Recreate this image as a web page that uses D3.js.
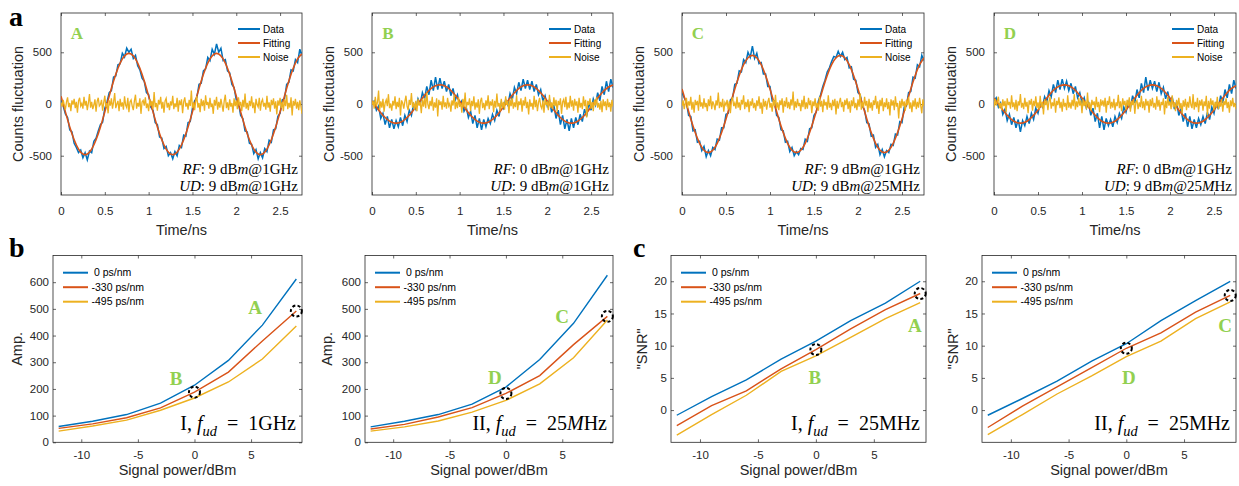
<!DOCTYPE html>
<html><head><meta charset="utf-8">
<script src="https://cdn.jsdelivr.net/npm/d3@7"></script>
<style>
body{margin:0;background:#fff}
svg{display:block}
</style>
</head><body>
<svg id="c" width="1239" height="486"></svg>
<script>
// ---------------- DATA ----------------
const sampleStep = 0.025;   // ns between data samples
const noiseStep = 0.0125;   // ns between noise samples
const fitStep = 0.05;       // ns between fitted-curve samples
const timeTicks = [0, 0.5, 1, 1.5, 2, 2.5];
const countTicks = [-500, 0, 500];

const dataA = [40,-20,-95,-130,-250,-270,-380,-420,-470,-445,
-520,-470,-540,-455,-470,-360,-330,-260,-200,-175,
-40,20,110,130,260,270,380,390,490,455,
540,500,530,440,470,370,330,250,220,110,
90,-30,-60,-180,-200,-320,-330,-430,-410,-500,
-470,-530,-460,-500,-400,-420,-300,-310,-180,-170,
-40,30,60,190,200,320,340,450,420,530,
480,580,500,540,420,430,320,300,190,160,
40,10,-110,-140,-260,-270,-380,-390,-480,-440,
-530,-470,-520,-430,-460,-350,-370,-250,-240,-120,
-90,40,50,190,210,330,320,430,400,530,470];
const fitA = [76,-76,-222,-346,-437,-484,-484,-437,-346,-222,-76,76,222,346,437,484,484,437,346,222,
76,-76,-222,-346,-437,-484,-484,-437,-346,-222,-76,76,222,346,437,484,484,437,346,222,
76,-76,-222,-346,-437,-484,-484,-437,-346,-222,-76,76,222,346,437,484];
const noiseA = [15,-25,40,-10,-55,20,65,-30,10,-70,35,-5,50,-40,20,-85,30,60,-20,5,
-45,70,-15,30,-60,10,95,-35,20,-50,-10,45,-75,25,60,-20,-5,40,-65,15,
80,-30,10,-90,35,-15,55,-45,20,105,-40,0,30,-70,50,-25,15,-55,75,-10,
-35,60,-80,20,40,-20,-60,30,90,-45,10,-25,55,-95,20,35,-15,65,-40,5,
-70,45,-20,30,-50,115,-30,10,-65,40,-5,70,-45,20,-85,30,55,-35,10,-60,
25,-15,80,-50,5,-30,60,-75,35,-10,45,-90,20,65,-25,10,-55,40,-20,130,
-40,15,-60,30,75,-35,10,-80,50,-20,35,-65,85,-10,20,-45,60,-30,5,-95,
40,-15,70,-55,20,-35,50,-10,-75,30,90,-40,15,-60,45,-25,10,-85,55,-20,
35,-50,65,-15,20,-70,40,-30,100,-45,10,-60,30,-20,75,-40,15,-90,50,-5,
-30,60,-65,20,45,-25,10,-55,80,-35,15,-75,40,-10,55,-45,25,-100,35,-15,
60,-40,20,-70,45,-20,90,-50,10,-35,65,-110,30,-15,50,-45,20,-60,35,-20,-95];

const dataB = [10,30,-60,-20,-140,-90,-200,-120,-230,-150,
-240,-160,-220,-130,-210,-110,-170,-60,-110,0,
-50,50,0,110,50,170,90,230,130,260,
140,250,150,220,120,190,80,150,40,90,
-10,30,-70,-30,-130,-70,-190,-110,-230,-140,
-250,-150,-220,-140,-190,-100,-160,-60,-120,10,
-40,40,-10,100,40,160,100,210,130,240,
150,230,140,220,120,190,90,140,30,80,
-20,40,-80,-10,-140,-60,-200,-110,-240,-150,
-260,-140,-230,-130,-200,-100,-170,-50,-120,20,
-60,50,-10,110,30,170,90,220,120,240,160];
const fitB = [29,-29,-84,-131,-165,-183,-183,-165,-131,-84,-29,29,84,131,165,183,183,165,131,84,
29,-29,-84,-131,-165,-183,-183,-165,-131,-84,-29,29,84,131,165,183,183,165,131,84,
29,-29,-84,-131,-165,-183,-183,-165,-131,-84,-29,29,84,131,165,183];
const noiseB = [-10,30,-45,70,-20,15,130,-60,25,-35,50,-75,10,40,-20,95,-40,5,-65,30,
-15,75,-50,20,-30,60,-110,35,10,-45,25,80,-20,-60,40,-10,105,-35,15,-55,
30,-70,50,-15,20,-90,45,-25,60,-40,110,-5,-50,30,-20,70,-65,15,-35,55,
-120,40,-10,25,-55,80,-30,15,-45,60,-20,5,-75,35,-15,90,-50,20,-40,65,
-25,10,-85,50,-30,110,-45,20,-10,55,-70,30,-20,75,-55,15,-35,45,-95,25,
60,-40,10,-60,35,-20,85,-50,25,-15,45,-80,30,-35,100,-25,10,-65,50,-40,
20,-55,75,-10,30,-90,45,-20,60,-45,15,-30,85,-60,25,-10,55,-75,35,-15,
70,-40,20,-100,45,-25,10,-55,80,-30,40,-70,15,60,-20,-45,35,-85,50,-10,
25,-60,90,-35,15,-50,65,-20,40,-75,30,-10,55,-95,20,45,-30,70,-55,15,
-40,80,-25,35,-65,50,-15,25,-85,60,-35,10,-50,75,-20,40,-130,30,-10,55,
-45,20,-70,40,-15,65,-35,10,-55,30,-80,45,-20,25,-60,50,-30,15,-75,40,-25];

const dataC = [110,60,20,-110,-120,-260,-250,-370,-360,-450,
-410,-510,-450,-500,-420,-440,-340,-350,-230,-230,
-100,-90,40,60,190,200,320,310,430,400,
500,450,560,440,490,390,400,290,290,170,
170,30,30,-110,-130,-250,-260,-370,-360,-460,
-420,-500,-460,-490,-430,-440,-340,-360,-240,-230,
-110,-80,30,90,170,230,310,350,410,460,
450,510,460,500,430,450,350,360,240,230,
110,90,-20,-60,-180,-190,-310,-300,-420,-390,
-490,-440,-510,-450,-470,-390,-400,-290,-300,-170,
-180,-30,-20,110,120,260,250,380,360,470,420];
const fitC = [145,0,-145,-276,-380,-447,-470,-447,-380,-276,-145,0,145,276,380,447,470,447,380,276,
145,0,-145,-276,-380,-447,-470,-447,-380,-276,-145,0,145,276,380,447,470,447,380,276,
145,0,-145,-276,-380,-447,-470,-447,-380,-276,-145,0,145,276,380,447];
const noiseC = [-20,35,-50,10,60,-40,25,-15,70,-55,20,-85,40,-10,30,-65,90,-25,15,-45,
55,-30,10,-70,45,-20,80,-50,25,-5,-60,35,-15,110,-40,20,-30,50,-75,15,
-10,40,-55,25,-90,30,65,-20,10,-45,70,-35,15,-60,40,-5,85,-50,20,-30,
45,-80,25,-15,55,-40,10,-65,35,-20,75,-45,15,-95,50,-25,30,-55,20,60,
-35,10,-75,40,-20,90,-45,15,-60,35,-10,55,-85,30,-25,65,-40,20,-50,45,
-15,120,-60,25,-35,50,-20,10,-70,40,-30,80,-50,15,-45,60,-10,35,-90,25,
-20,55,-40,10,-65,70,-25,30,-80,45,-15,20,-55,85,-35,10,-60,40,-20,50,
-100,30,-45,15,60,-30,20,-75,40,-10,55,-50,25,-85,35,-20,65,-40,10,-60,
45,-25,100,-55,20,-35,70,-15,30,-80,50,-40,15,-65,35,-10,80,-45,25,-95,
40,-20,60,-70,15,-30,55,-50,20,-110,45,-15,35,-60,75,-25,10,-140,30,-40,
50,-20,25,-65,40,-10,70,-45,15,-80,35,-25,55,-50,20,-35,60,-15,-90,45,-20];

const dataD = [30,60,-30,10,-100,-50,-160,-100,-200,-130,
-230,-150,-270,-160,-210,-120,-190,-90,-150,-40,
-90,10,-30,70,20,130,70,190,110,230,
140,240,150,220,130,200,100,170,60,110,
10,60,-40,10,-110,-40,-170,-90,-230,-120,
-250,-140,-210,-150,-220,-120,-180,-90,-140,-30,
-80,20,-40,80,10,140,60,200,110,260,
130,230,150,220,120,210,100,160,50,120,
0,70,-50,20,-110,-50,-170,-90,-220,-120,
-240,-150,-230,-140,-200,-120,-190,-80,-150,-30,
-90,20,-50,80,10,140,60,190,100,230,150];
const fitD = [57,0,-57,-109,-150,-176,-185,-176,-150,-109,-57,0,57,109,150,176,185,176,150,109,
57,0,-57,-109,-150,-176,-185,-176,-150,-109,-57,0,57,109,150,176,185,176,150,109,
57,0,-57,-109,-150,-176,-185,-176,-150,-109,-57,0,57,109,150,176];
const noiseD = [-35,50,-15,25,70,-40,10,-60,45,-20,30,-80,55,-10,20,-45,85,-30,15,-55,
40,-70,25,-15,95,-35,10,-50,60,-25,20,-90,35,-5,50,-65,30,-20,75,-40,
15,-55,80,-30,20,-100,45,-10,35,-60,25,70,-45,15,-20,55,-85,30,-10,65,
-40,20,-75,50,-25,10,-60,85,-35,15,-45,40,-20,95,-55,25,-30,60,-15,35,
-90,45,-20,30,-50,110,-35,15,-65,40,-10,25,-55,70,-30,20,-80,45,-15,35,
-25,60,-85,30,-10,75,-45,20,-35,50,-60,15,-20,90,-40,25,-70,55,-10,30,
-55,40,-20,65,-75,30,-10,45,-95,20,35,-50,15,-30,80,-40,25,-60,50,-15,
30,-85,45,-20,60,-35,10,-55,75,-25,40,-65,20,-10,55,-100,30,-40,70,-15,
25,-50,85,-30,15,-70,40,-20,60,-45,10,-90,35,-25,50,-60,20,-35,75,-10,
-40,95,-55,20,-30,60,-80,35,-15,45,-65,25,-20,80,-110,30,-45,55,-10,35,
-60,20,-35,70,-50,15,-25,45,-75,30,-10,55,-40,20,-85,35,-20,60,-30,10,-50];

const topSeriesNames = ["Data", "Fitting", "Noise"];

// bottom row
const signalPower = [-12, -9, -6, -3, 0, 3, 6, 9];
const powerTicks = [-10, -5, 0, 5];
const ampTicks = [0, 100, 200, 300, 400, 500, 600];
const snrTicks = [0, 5, 10, 15, 20];
const dispersionNames = ["0 ps/nm", "-330 ps/nm", "-495 ps/nm"];

const ampI_0   = [59, 79, 104, 147, 214, 307, 439, 612];
const ampI_330 = [52, 69, 92, 129, 188, 263, 380, 492];
const ampI_495 = [42, 61, 83, 120, 166, 226, 312, 436];
const ampII_0   = [58, 79, 104, 143, 207, 310, 446, 626];
const ampII_330 = [50, 67, 95, 130, 183, 250, 366, 472];
const ampII_495 = [42, 58, 80, 113, 157, 219, 317, 458];
const snrI_0   = [-0.8, 2.1, 4.7, 7.9, 10.7, 13.9, 16.6, 20.0];
const snrI_330 = [-2.4, 0.7, 3.0, 6.4, 9.4, 12.6, 15.6, 18.1];
const snrI_495 = [-3.9, -0.7, 2.3, 6.0, 8.4, 11.3, 14.2, 16.7];
const snrII_0   = [-0.8, 1.8, 4.5, 7.6, 10.3, 13.9, 17.0, 20.0];
const snrII_330 = [-2.7, 0.6, 3.6, 6.6, 9.6, 12.0, 15.2, 17.8];
const snrII_495 = [-3.8, -0.7, 2.5, 5.3, 8.3, 10.7, 14.2, 16.8];

// ---------------- STYLE / LAYOUT ----------------
const C_BLUE = "#0072BD", C_RED = "#D95319", C_YEL = "#EDB120", C_GREEN = "#92D050", AX = "#262626";
const SANS = '"Liberation Sans", Arial, Helvetica, sans-serif';
const SERIF = '"Liberation Serif", "Times New Roman", serif';
const svg = d3.select("#c");
let clipId = 0;

function fmt(d){ return String(d); }

function frame(x, y, xt, yt, o){
  const [x0, x1] = x.range(), [yb, yt0] = y.range();
  const g = svg.append("g");
  const style = a => {
    a.select(".domain").remove();
    a.selectAll(".tick line").attr("stroke", AX).attr("stroke-width", 0.7);
    a.selectAll("text").attr("fill", AX).style("font-family", SANS).style("font-size", "11.5px");
  };
  g.append("g").attr("transform", `translate(0,${yb})`)
    .call(d3.axisBottom(x).tickValues(xt).tickSizeInner(-3).tickSizeOuter(0).tickPadding(o.xpad).tickFormat(fmt)).call(style);
  g.append("g").attr("transform", `translate(0,${yt0})`)
    .call(d3.axisTop(x).tickValues(xt).tickSizeInner(-3).tickSizeOuter(0).tickFormat("")).call(style);
  g.append("g").attr("transform", `translate(${x0},0)`)
    .call(d3.axisLeft(y).tickValues(yt).tickSizeInner(-3).tickSizeOuter(0).tickPadding(o.ypad).tickFormat(fmt)).call(style);
  g.append("g").attr("transform", `translate(${x1},0)`)
    .call(d3.axisRight(y).tickValues(yt).tickSizeInner(-3).tickSizeOuter(0).tickFormat("")).call(style);
  g.append("rect").attr("x", x0).attr("y", yt0).attr("width", x1 - x0).attr("height", yb - yt0)
    .attr("fill", "none").attr("stroke", AX).attr("stroke-width", 0.8);
  svg.append("text").attr("x", (x0 + x1) / 2).attr("y", o.xlabY).attr("text-anchor", "middle")
    .style("font-family", SANS).style("font-size", "14.5px").attr("fill", AX).text(o.xlab);
  svg.append("text").attr("transform", `translate(${o.ylabX},${(yb + yt0) / 2}) rotate(-90)`)
    .attr("text-anchor", "middle").attr("dy", "0.35em")
    .style("font-family", SANS).style("font-size", "14.5px").attr("fill", AX).text(o.ylab);
}

function clip(x, y){
  const id = "clip" + (clipId++);
  const [x0, x1] = x.range(), [yb, yt0] = y.range();
  svg.append("clipPath").attr("id", id).append("rect")
    .attr("x", x0).attr("y", yt0).attr("width", x1 - x0).attr("height", yb - yt0);
  return svg.append("g").attr("clip-path", `url(#${id})`);
}

function rich(x, y, segs, size, anchor){
  const t = svg.append("text").attr("x", x).attr("y", y).attr("text-anchor", anchor)
    .style("font-family", SERIF).style("font-size", size + "px").attr("fill", "#000")
    .style("white-space", "pre");
  let shifted = 0;
  segs.forEach(s => {
    const ts = t.append("tspan").text(s.t);
    if (s.i) ts.style("font-style", "italic");
    if (s.sub) { ts.attr("dy", size * 0.28 - shifted).style("font-size", (size * 0.72) + "px"); shifted = size * 0.28; }
    else if (shifted) { ts.attr("dy", -shifted); shifted = 0; }
  });
}

function green(x, y, txt, size){
  svg.append("text").attr("x", x).attr("y", y).attr("text-anchor", "middle").attr("dy", "0.35em")
    .style("font-family", SERIF).style("font-weight", "bold").style("font-size", size + "px")
    .attr("fill", C_GREEN).text(txt);
}

function panelLetter(x, y, t){
  svg.append("text").attr("x", x).attr("y", y).style("font-family", SERIF).style("font-weight", "bold")
    .style("font-size", "28px").attr("fill", "#000").text(t);
}

// ---------------- TOP ROW ----------------
const seg = (t, i) => ({ t, i });
const topPanels = [
  { left: 61, right: 302, data: dataA, fit: fitA, noise: noiseA, tag: "A",
    rf: [seg("RF",1), seg(": 9 dB"), seg("m",1), seg("@1GHz")],
    ud: [seg("UD",1), seg(": 9 dB"), seg("m",1), seg("@1GHz")] },
  { left: 372, right: 613, data: dataB, fit: fitB, noise: noiseB, tag: "B",
    rf: [seg("RF",1), seg(": 0 dB"), seg("m",1), seg("@1GHz")],
    ud: [seg("UD",1), seg(": 9 dB"), seg("m",1), seg("@1GHz")] },
  { left: 682, right: 924, data: dataC, fit: fitC, noise: noiseC, tag: "C",
    rf: [seg("RF",1), seg(": 9 dB"), seg("m",1), seg("@1GHz")],
    ud: [seg("UD",1), seg(": 9 dB"), seg("m",1), seg("@25MHz")] },
  { left: 994, right: 1236, data: dataD, fit: fitD, noise: noiseD, tag: "D",
    rf: [seg("RF",1), seg(": 0 dB"), seg("m",1), seg("@1GHz")],
    ud: [seg("UD",1), seg(": 9 dB"), seg("m",1), seg("@25"), seg("M",1), seg("Hz")] }
];

topPanels.forEach(p => {
  const x = d3.scaleLinear().domain([0, 2.75]).range([p.left, p.right]);
  const y = d3.scaleLinear().domain([-880, 880]).range([195, 13]);
  frame(x, y, timeTicks, countTicks, { xpad: 12, ypad: 9, xlab: "Time/ns", xlabY: 235,
    ylab: "Counts fluctuation", ylabX: p.left - 43 });
  const g = clip(x, y);
  const ln = (step) => d3.line().x((d, i) => x(i * step)).y(d => y(d));
  g.append("path").datum(p.data).attr("d", ln(sampleStep)).attr("fill", "none").attr("stroke", C_BLUE).attr("stroke-width", 1.5);
  g.append("path").datum(p.fit).attr("d", ln(fitStep).curve(d3.curveNatural)).attr("fill", "none").attr("stroke", C_RED).attr("stroke-width", 1.6);
  g.append("path").datum(p.noise).attr("d", ln(noiseStep)).attr("fill", "none").attr("stroke", C_YEL).attr("stroke-width", 1.3);
  [C_BLUE, C_RED, C_YEL].forEach((c, i) => {
    const yy = 29 + i * 14;
    svg.append("line").attr("x1", p.right - 64).attr("x2", p.right - 42).attr("y1", yy).attr("y2", yy)
      .attr("stroke", c).attr("stroke-width", 2);
    svg.append("text").attr("x", p.right - 39).attr("y", yy).attr("dy", "0.35em")
      .style("font-family", SANS).style("font-size", "10px").attr("fill", "#000").text(topSeriesNames[i]);
  });
  green(p.left + 16, 33, p.tag, 17);
  rich(p.right - 4, 174, p.rf, 15, "end");
  rich(p.right - 4, 191, p.ud, 15, "end");
});

// ---------------- BOTTOM ROW ----------------
const sub = (t) => ({ t, i: 1, sub: 1 });
const EQ = "\u2002=\u2002";
const bottomPanels = [
  { left: 53, right: 302, kind: "amp", series: [ampI_0, ampI_330, ampI_495],
    labels: [["A", 5.35, 507], ["B", -1.63, 241]], ylab: "Amp.", ylabOff: 36,
    note: [seg("I, "), seg("f",1), sub("ud"), seg(EQ + "1GHz")] },
  { left: 365, right: 613, kind: "amp", series: [ampII_0, ampII_330, ampII_495],
    labels: [["C", 4.98, 473], ["D", -0.97, 245]], ylab: "Amp.", ylabOff: 38,
    note: [seg("II, "), seg("f",1), sub("ud"), seg(EQ + "25"), seg("M",1), seg("Hz")] },
  { left: 671, right: 926, kind: "snr", series: [snrI_0, snrI_330, snrI_495],
    labels: [["A", 8.55, 13.2], ["B", -0.08, 5.1]], ylab: "\"SNR\"", ylabOff: 29,
    note: [seg("I, "), seg("f",1), sub("ud"), seg(EQ + "25MHz")] },
  { left: 982, right: 1236, kind: "snr", series: [snrII_0, snrII_330, snrII_495],
    labels: [["C", 8.55, 13.2], ["D", 0.23, 5.1]], ylab: "\"SNR\"", ylabOff: 29,
    note: [seg("II, "), seg("f",1), sub("ud"), seg(EQ + "25MHz")] }
];

bottomPanels.forEach(p => {
  const x = d3.scaleLinear().domain([-12.5, 9.5]).range([p.left, p.right]);
  const y = p.kind === "amp"
    ? d3.scaleLinear().domain([0, 700]).range([442.3, 255.5])
    : d3.scaleLinear().domain([-5, 24]).range([442.3, 255.5]);
  frame(x, y, powerTicks, p.kind === "amp" ? ampTicks : snrTicks,
    { xpad: 9, ypad: 4, xlab: "Signal power/dBm", xlabY: 474.5, ylab: p.ylab, ylabX: p.left - p.ylabOff });
  const g = clip(x, y);
  const line = d3.line().x((d, i) => x(signalPower[i])).y(d => y(d));
  [C_BLUE, C_RED, C_YEL].forEach((c, i) => {
    g.append("path").datum(p.series[i]).attr("d", line).attr("fill", "none").attr("stroke", c).attr("stroke-width", 1.4);
  });
  [C_BLUE, C_RED, C_YEL].forEach((c, i) => {
    const yy = 272.7 + i * 14.5;
    svg.append("line").attr("x1", p.left + 10).attr("x2", p.left + 35).attr("y1", yy).attr("y2", yy)
      .attr("stroke", c).attr("stroke-width", 2);
    svg.append("text").attr("x", p.left + (i === 0 ? 41 : 38.5)).attr("y", yy).attr("dy", "0.35em")
      .style("font-family", SANS).style("font-size", "10.5px").attr("fill", "#000").text(dispersionNames[i]);
  });
  [4, 7].forEach(k => {
    svg.append("circle").attr("cx", x(signalPower[k])).attr("cy", y(p.series[1][k])).attr("r", 5.5)
      .attr("fill", "none").attr("stroke", "#000").attr("stroke-width", 2).attr("stroke-dasharray", "3,2.3");
  });
  p.labels.forEach(l => green(x(l[1]), y(l[2]), l[0], 19));
  rich(p.right - 6, 430, p.note, 20, "end");
});

panelLetter(9, 26, "a");
panelLetter(9, 257, "b");
panelLetter(633, 257, "c");
</script>
</body></html>
